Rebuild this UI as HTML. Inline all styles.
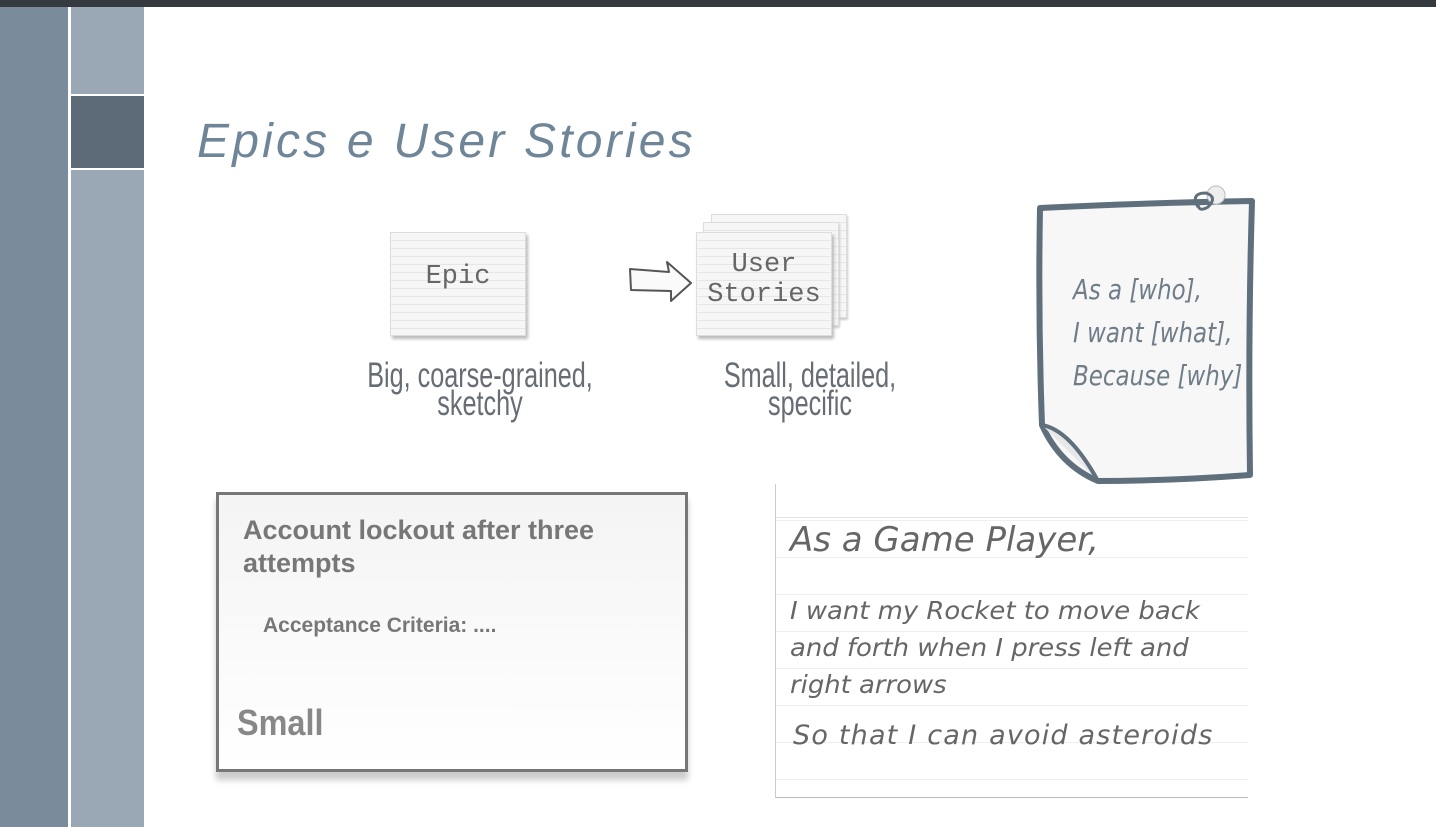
<!DOCTYPE html>
<html><head><meta charset="utf-8"><style>
*{margin:0;padding:0;box-sizing:border-box}
body{width:1436px;height:827px;position:relative;background:#fff;overflow:hidden;font-family:"Liberation Sans",sans-serif}
.a{position:absolute}
.lined{background:repeating-linear-gradient(to bottom,#f6f6f6 0,#f6f6f6 7px,#e6e6e6 7px,#e6e6e6 8px)}
.cond{font-family:"Liberation Sans Narrow","Liberation Sans",sans-serif;color:#666d74;text-align:center;transform:scaleX(.72);transform-origin:center top;font-size:35px;line-height:28px}
.hand{font-family:"DejaVu Sans",sans-serif;font-style:italic;color:#777;position:absolute;white-space:nowrap}
</style></head><body>
<div class="a" style="left:0;top:0;width:1436px;height:7px;background:#353a3f"></div>
<div class="a" style="left:0;top:7px;width:68px;height:820px;background:#7a8c9c"></div>
<div class="a" style="left:71px;top:7px;width:73px;height:820px;background:#9aa8b5"></div>
<div class="a" style="left:71px;top:94px;width:73px;height:2px;background:#fff"></div>
<div class="a" style="left:71px;top:96px;width:73px;height:72px;background:#5d6a78"></div>
<div class="a" style="left:71px;top:168px;width:73px;height:2px;background:#fff"></div>
<div class="a" style="left:197px;top:114px;font-size:48px;font-style:italic;color:#6f8598;white-space:nowrap;letter-spacing:3.2px">Epics e User Stories</div>

<div class="a lined" style="left:390px;top:232px;width:136px;height:104px;border:1px solid #ddd;box-shadow:2px 3px 3px #bbb"></div>
<div class="a" style="left:390px;top:262px;width:136px;text-align:center;font-family:'Liberation Mono',monospace;font-size:27px;color:#666">Epic</div>
<svg class="a" style="left:625px;top:255px" width="80" height="50"><path d="M5 14 L44 17 L42 7 L66 28 L46 46 L46 36 L6 35 Z" fill="#fafafa" stroke="#555" stroke-width="2" stroke-linejoin="round"/></svg>
<div class="a lined" style="left:711px;top:214px;width:136px;height:104px;border:1px solid #ddd;box-shadow:1px 2px 2px #ccc"></div>
<div class="a lined" style="left:703px;top:222px;width:136px;height:104px;border:1px solid #ddd;box-shadow:1px 2px 2px #ccc"></div>
<div class="a lined" style="left:696px;top:232px;width:136px;height:104px;border:1px solid #ddd;box-shadow:2px 3px 3px #bbb"></div>
<div class="a" style="left:696px;top:250px;width:136px;text-align:center;font-family:'Liberation Mono',monospace;font-size:27px;line-height:30px;color:#666">User<br>Stories</div>

<div class="a cond" style="left:300px;top:362px;width:360px">Big, coarse-grained,<br>sketchy</div>
<div class="a cond" style="left:660px;top:362px;width:300px">Small, detailed,<br>specific</div>

<svg class="a" style="left:1020px;top:185px" width="240" height="310">
<path d="M20 23 Q120 18 232 16 Q228 150 230 290 Q150 296 78 296 Q40 280 22 240 Q18 130 20 23 Z" fill="#f7f7f8" stroke="#5f6f7c" stroke-width="6" stroke-linejoin="round"/>
<path d="M22 240 Q50 245 78 296" fill="#e8e8e8" stroke="#5f6f7c" stroke-width="4"/>
<circle cx="196" cy="10" r="9" fill="#eee" stroke="#bbb"/>
<path d="M178 22 q-8 -14 8 -14 q12 4 2 14 q-10 6 -10 -4" fill="none" stroke="#5f6f7c" stroke-width="3"/>
</svg>
<div class="hand" style="left:1073px;top:268px;font-size:28px;line-height:43px;color:#6f7d88;transform:scaleX(.82);transform-origin:left top">As a [who],<br>I want [what],<br>Because [why]</div>

<div class="a" style="left:216px;top:492px;width:472px;height:280px;border:3px solid #777;background:linear-gradient(#f4f4f4,#fff);box-shadow:0 8px 6px #ccc"></div>
<div class="a" style="left:243px;top:514px;font-size:27px;line-height:33px;font-weight:bold;color:#777;width:520px;font-family:'Liberation Sans Narrow','Liberation Sans',sans-serif">Account lockout after three<br>attempts</div>
<div class="a" style="left:263px;top:614px;font-size:21px;font-weight:bold;color:#777;white-space:nowrap;font-family:'Liberation Sans Narrow','Liberation Sans',sans-serif">Acceptance Criteria: ....</div>
<div class="a" style="left:237px;top:702px;font-size:36px;font-weight:bold;color:#888;transform:scaleX(.9);transform-origin:left top;font-family:'Liberation Sans Narrow','Liberation Sans',sans-serif">Small</div>

<div class="a" style="left:775px;top:484px;width:473px;height:314px;background:linear-gradient(#e4e4e4,#e4e4e4) 0 33px/100% 1px no-repeat,repeating-linear-gradient(to bottom,#fff 0,#fff 36px,#efefef 36px,#efefef 37px);border-left:1px solid #ccc;border-bottom:1px solid #bbb"></div>
<div class="hand" style="left:790px;top:520px;font-size:34px;color:#666">As  a  Game  Player,</div>
<div class="hand" style="left:790px;top:592px;font-size:25px;line-height:37px;color:#666;transform:scaleX(1.035);transform-origin:left top">I want  my Rocket to  move  back<br>and forth  when I  press  left  and<br>right  arrows</div>
<div class="hand" style="left:793px;top:720px;font-size:27px;color:#666;letter-spacing:1.2px">So that  I  can  avoid  asteroids</div>
</body></html>
